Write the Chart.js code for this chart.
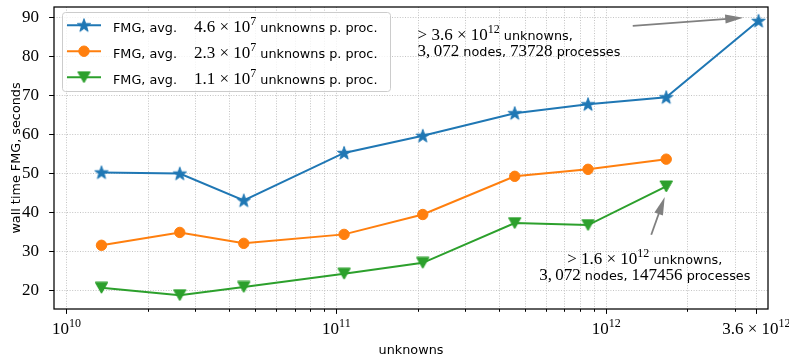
<!DOCTYPE html>
<html>
<head>
<meta charset="utf-8">
<script src="https://cdn.jsdelivr.net/npm/chart.js@4/dist/chart.umd.min.js"></script>
<style>
  html, body { margin: 0; padding: 0; background: #fff; }
  #wrap { width: 789px; height: 358px; }
</style>
</head>
<body>
<div id="wrap"><canvas id="c" width="789" height="358"></canvas></div>
<script>
// Problem sizes (total unknowns) of the weak-scaling runs
const unknowns = [1.348e10, 2.629e10, 4.539e10, 1.068e11, 2.090e11, 4.581e11, 8.56e11, 1.668e12, 3.667e12];
// FMG wall time in seconds for each load per process
const timeLarge  = [50.2, 49.9, 43.0, 55.2, 59.6, 65.4, 67.7, 69.5, 89.1];
const timeMedium = [31.5, 34.8, 32.0, 34.3, 39.4, 49.2, 51.0, 53.6];
const timeSmall  = [20.6, 18.7, 20.8, 24.2, 27.0, 37.2, 36.7, 46.6];

const seriesNames = [
  'FMG, avg. 4.6×10^7 unknowns p. proc.',
  'FMG, avg. 2.3×10^7 unknowns p. proc.',
  'FMG, avg. 1.1×10^7 unknowns p. proc.'
];

// Axis ticks
const yTicks = [20, 30, 40, 50, 60, 70, 80, 90];
const xMajorTicks = [1e10, 1e11, 1e12, 3.6e12];
const xMajorLabels = [
  [['m', '10'], ['p', '10']],
  [['m', '10'], ['p', '11']],
  [['m', '10'], ['p', '12']],
  [['m', '3.6 × 10'], ['p', '12']]
];
const xMinorTicks = [2e10, 3e10, 4e10, 5e10, 6e10, 7e10, 8e10, 9e10,
                     2e11, 3e11, 4e11, 5e11, 6e11, 7e11, 8e11, 9e11,
                     2e12, 3e12];

// Rich-text pieces: s = sans text, m = math (serif), p = superscript
const legendTexts = [
  [['s', 'FMG, avg. '], ['m', '\u2002 4.6 × 10'], ['p', '7'], ['s', ' unknowns p. proc.']],
  [['s', 'FMG, avg. '], ['m', '\u2002 2.3 × 10'], ['p', '7'], ['s', ' unknowns p. proc.']],
  [['s', 'FMG, avg. '], ['m', '\u2002 1.1 × 10'], ['p', '7'], ['s', ' unknowns p. proc.']]
];

const notes = [
  { x: 2.0e11, y: [84.3, 80.1], align: 'left', lines: [
      [['m', '> 3.6 × 10'], ['p', '12'], ['s', ' unknowns,']],
      [['m', '3,\u2009072'], ['s', ' nodes, '], ['m', '73728'], ['s', ' processes']]
  ]},
  { x: 1.389e12, y: [26.8, 22.5], align: 'center', lines: [
      [['m', '> 1.6 × 10'], ['p', '12'], ['s', ' unknowns,']],
      [['m', '3,\u2009072'], ['s', ' nodes, '], ['m', '147456'], ['s', ' processes']]
  ]}
];

const arrows = [
  { from: [1.254e12, 87.8], to: [3.218e12, 89.9] },
  { from: [1.468e12, 34.2], to: [1.647e12, 43.9] }
];

const COLORS = ['#1f77b4', '#ff7f0e', '#2ca02c'];
const SANS = '"DejaVu Sans"';
const SERIF = '"Liberation Serif"';
const FONT = { s: '12.8px ' + SANS, m: '17px ' + SERIF, p: '12px ' + SERIF };
const RAISE = { s: 0, m: 0, p: 7 };

function starMarker(color, R, r) {
  const size = Math.ceil(2 * R + 2);
  const c = document.createElement('canvas');
  c.width = c.height = size;
  const g = c.getContext('2d');
  const cx = size / 2, cy = size / 2 + 0.5;
  g.beginPath();
  for (let i = 0; i < 10; i++) {
    const rad = i % 2 ? r : R;
    const a = -Math.PI / 2 + i * Math.PI / 5;
    g.lineTo(cx + rad * Math.cos(a), cy + rad * Math.sin(a));
  }
  g.closePath();
  g.fillStyle = color; g.fill();
  g.strokeStyle = color; g.lineWidth = 1; g.stroke();
  return c;
}

function triangleDownMarker(color, w, h) {
  const c = document.createElement('canvas');
  c.width = Math.ceil(w + 2); c.height = Math.ceil(h + 2);
  const g = c.getContext('2d');
  const cx = c.width / 2, cy = c.height / 2;
  g.beginPath();
  g.moveTo(cx - w / 2, cy - h / 2);
  g.lineTo(cx + w / 2, cy - h / 2);
  g.lineTo(cx, cy + h / 2);
  g.closePath();
  g.fillStyle = color; g.fill();
  g.strokeStyle = color; g.lineWidth = 1; g.stroke();
  return c;
}

const markers = [
  { pointStyle: starMarker(COLORS[0], 7, 2.8), radius: 6, rotation: 0 },
  { pointStyle: 'circle', radius: 5.2, rotation: 0 },
  { pointStyle: triangleDownMarker(COLORS[2], 12.5, 11), radius: 6, rotation: 0 }
];

function toPoints(ys) {
  return ys.map((v, i) => ({ x: unknowns[i], y: v }));
}

function richWidth(ctx, parts) {
  let w = 0;
  for (const [k, t] of parts) { ctx.font = FONT[k]; w += ctx.measureText(t).width; }
  return w;
}

function drawRich(ctx, parts, x, y, align) {
  const w = richWidth(ctx, parts);
  let cx = align === 'center' ? x - w / 2 : (align === 'right' ? x - w : x);
  ctx.textAlign = 'left';
  ctx.textBaseline = 'alphabetic';
  ctx.fillStyle = '#000';
  for (const [k, t] of parts) {
    ctx.font = FONT[k];
    ctx.fillText(t, cx, y - RAISE[k]);
    cx += ctx.measureText(t).width;
  }
}

function drawArrow(ctx, x1, y1, x2, y2) {
  const dx = x2 - x1, dy = y2 - y1;
  const len = Math.hypot(dx, dy);
  const ux = dx / len, uy = dy / len;
  const headLen = 18, halfW = 4.5;
  const bx = x2 - ux * headLen, by = y2 - uy * headLen;
  ctx.save();
  ctx.strokeStyle = '#808080';
  ctx.fillStyle = '#808080';
  ctx.lineWidth = 1.8;
  ctx.beginPath();
  ctx.moveTo(x1, y1);
  ctx.lineTo(bx + ux * 2, by + uy * 2);
  ctx.stroke();
  ctx.beginPath();
  ctx.moveTo(x2, y2);
  ctx.lineTo(bx - uy * halfW, by + ux * halfW);
  ctx.lineTo(bx + uy * halfW, by - ux * halfW);
  ctx.closePath();
  ctx.fill();
  ctx.restore();
}

const decorations = {
  id: 'decorations',
  beforeDatasetsDraw(chart) {
    const { ctx, chartArea: a, scales: { x, y } } = chart;
    ctx.save();
    ctx.beginPath();
    ctx.rect(a.left, a.top, a.right - a.left, a.bottom - a.top);
    ctx.clip();
    ctx.strokeStyle = '#c4c4c4';
    ctx.lineWidth = 1;
    ctx.setLineDash([1, 1.6]);
    for (const v of yTicks) {
      const py = Math.round(y.getPixelForValue(v)) + 0.5;
      ctx.beginPath(); ctx.moveTo(a.left, py); ctx.lineTo(a.right, py); ctx.stroke();
    }
    for (const v of xMajorTicks.concat(xMinorTicks)) {
      const px = Math.round(x.getPixelForValue(v)) + 0.5;
      ctx.beginPath(); ctx.moveTo(px, a.top); ctx.lineTo(px, a.bottom); ctx.stroke();
    }
    ctx.restore();
  },
  afterDatasetsDraw(chart) {
    const { ctx, chartArea: a, scales: { x, y } } = chart;
    ctx.save();
    // axes frame
    ctx.strokeStyle = '#000';
    ctx.lineWidth = 1.25;
    ctx.strokeRect(a.left, a.top, a.right - a.left, a.bottom - a.top);

    // tick marks
    ctx.lineWidth = 1;
    ctx.beginPath();
    for (const v of yTicks) {
      const py = Math.round(y.getPixelForValue(v)) + 0.5;
      ctx.moveTo(a.left, py); ctx.lineTo(a.left - 4.9, py);
    }
    for (const v of xMajorTicks) {
      const px = Math.round(x.getPixelForValue(v)) + 0.5;
      ctx.moveTo(px, a.bottom); ctx.lineTo(px, a.bottom + 4.9);
    }
    for (const v of xMinorTicks) {
      const px = Math.round(x.getPixelForValue(v)) + 0.5;
      ctx.moveTo(px, a.bottom); ctx.lineTo(px, a.bottom + 2.8);
    }
    ctx.stroke();

    // x tick labels
    xMajorTicks.forEach((v, i) => {
      drawRich(ctx, xMajorLabels[i], x.getPixelForValue(v), a.bottom + 24.5, 'center');
    });

    // legend
    ctx.fillStyle = 'rgba(255,255,255,0.8)';
    ctx.strokeStyle = '#cccccc';
    ctx.lineWidth = 1;
    ctx.beginPath();
    ctx.roundRect(62.5, 12.5, 328, 79, 3);
    ctx.fill();
    ctx.stroke();
    chart.data.datasets.forEach((ds, i) => {
      const cy = 25.2 + i * 26;
      ctx.strokeStyle = ds.borderColor;
      ctx.fillStyle = ds.backgroundColor;
      ctx.lineWidth = 2;
      ctx.beginPath(); ctx.moveTo(67, cy); ctx.lineTo(101, cy); ctx.stroke();
      ctx.lineWidth = 1;
      Chart.helpers.drawPoint(ctx, {
        pointStyle: markers[i].pointStyle, radius: markers[i].radius,
        rotation: markers[i].rotation, borderWidth: 1
      }, 84, cy);
      drawRich(ctx, legendTexts[i], 113, cy + 6.3, 'left');
    });

    // annotations
    for (const n of notes) {
      const px = x.getPixelForValue(n.x);
      n.lines.forEach((ln, j) => drawRich(ctx, ln, px, y.getPixelForValue(n.y[j]), n.align));
    }
    for (const ar of arrows) {
      drawArrow(ctx, x.getPixelForValue(ar.from[0]), y.getPixelForValue(ar.from[1]),
                     x.getPixelForValue(ar.to[0]), y.getPixelForValue(ar.to[1]));
    }
    ctx.restore();
  }
};

const seriesValues = [timeLarge, timeMedium, timeSmall];

new Chart(document.getElementById('c'), {
  type: 'line',
  data: {
    datasets: seriesValues.map((vals, i) => ({
      label: seriesNames[i],
      data: toPoints(vals),
      borderColor: COLORS[i],
      backgroundColor: COLORS[i],
      borderWidth: 2,
      tension: 0,
      pointStyle: markers[i].pointStyle,
      pointRadius: markers[i].radius,
      pointHoverRadius: markers[i].radius,
      pointRotation: markers[i].rotation,
      pointBorderWidth: 1
    }))
  },
  options: {
    responsive: false,
    animation: false,
    devicePixelRatio: 1,
    layout: { padding: { top: 4, right: 21, bottom: 0, left: 0 } },
    plugins: { legend: { display: false }, tooltip: { enabled: false } },
    scales: {
      x: {
        type: 'logarithmic',
        bounds: 'data',
        min: 8.99e9,
        max: 3.975e12,
        afterBuildTicks: s => { s.ticks = xMajorTicks.map(v => ({ value: v, major: true })); },
        afterFit: s => { s.height = 49; s.paddingLeft = 0; s.paddingRight = 0; },
        grid: { display: false },
        border: { display: false },
        ticks: { display: false },
        title: { display: true, text: 'unknowns', color: '#000',
                 font: { family: 'DejaVu Sans', size: 12.8 }, padding: { top: 0, bottom: 0 } }
      },
      y: {
        type: 'linear',
        bounds: 'data',
        min: 15.15,
        max: 92.65,
        afterBuildTicks: s => { s.ticks = yTicks.map(v => ({ value: v })); },
        afterFit: s => { s.width = 54; s.paddingTop = 0; s.paddingBottom = 0; },
        grid: { display: false },
        border: { display: false },
        ticks: { color: '#000', padding: 7, font: { family: 'Liberation Serif', size: 17 } },
        title: { display: true, text: 'wall time FMG, seconds', color: '#000',
                 font: { family: 'DejaVu Sans', size: 12.8 }, padding: { top: 9, bottom: 0 } }
      }
    }
  },
  plugins: [decorations]
});
</script>
</body>
</html>
